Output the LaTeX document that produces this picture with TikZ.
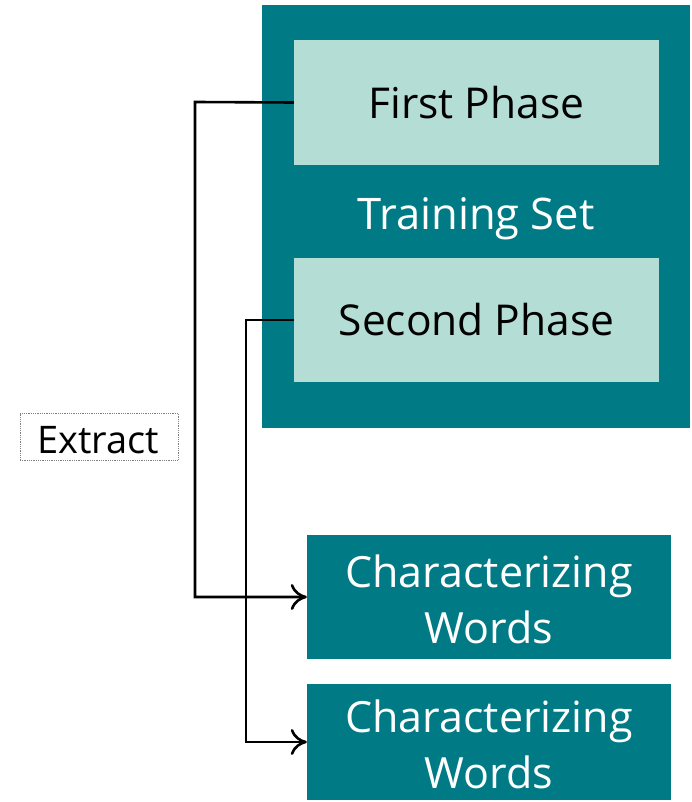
\documentclass[tikz,border=0pt]{standalone}
\usepackage{fontspec}
\setmainfont{Open Sans}
\usetikzlibrary{arrows.meta}
\definecolor{tealdark}{HTML}{007A85}
\definecolor{teallight}{HTML}{B3DDD5}
\begin{document}
\begin{tikzpicture}[x=1pt,y=-1pt,
  phase/.style={fill=teallight,draw=none,text=black,font=\fontsize{42.5}{48}\selectfont},
  result/.style={fill=tealdark,draw=none,minimum width=364pt},
  resulttext/.style={text=white,align=center,font=\fontsize{43}{56}\selectfont},
  link/.style={line width=2.6pt,-{To[length=16pt,width=26pt,line width=2.6pt]}}]
\useasboundingbox (0,0) rectangle (692,802);
% training set container
\fill[tealdark] (262,5) rectangle (690,428);
\node[phase,minimum width=365pt,minimum height=125pt] (p1) at (476.5,102.5) {First Phase};
\node[text=white,font=\fontsize{43.5}{48}\selectfont] (ts) at (476,219) {Training Set};
\node[phase,minimum width=365pt,minimum height=124pt] (p2) at (476.5,320) {Second Phase};
% outputs
\node[result,minimum height=124pt] (w1) at (489,597) {};
\node[resulttext] (w1t) at ([yshift=-2pt]w1.center) {Characterizing\\Words};
\node[result,minimum height=116pt] (w2) at (489,742) {};
\node[resulttext] (w2t) at ([yshift=-2pt]w2.center) {Characterizing\\Words};
% label with dotted frame
\node[draw=gray,densely dotted,line width=0.8pt,minimum width=158pt,minimum height=47pt] (ex) at (99,436.5) {};
\node[font=\fontsize{38}{40}\selectfont] (ext) at (98,440) {Extract};
% connectors
\coordinate (c1) at (195,102);
\coordinate (c2) at (246,320);
\draw[link] (p1.west) -- (c1) |- (w1.west);
\draw[link] (p2.west) -- (c2) |- (w2.west);
\end{tikzpicture}
\end{document}
